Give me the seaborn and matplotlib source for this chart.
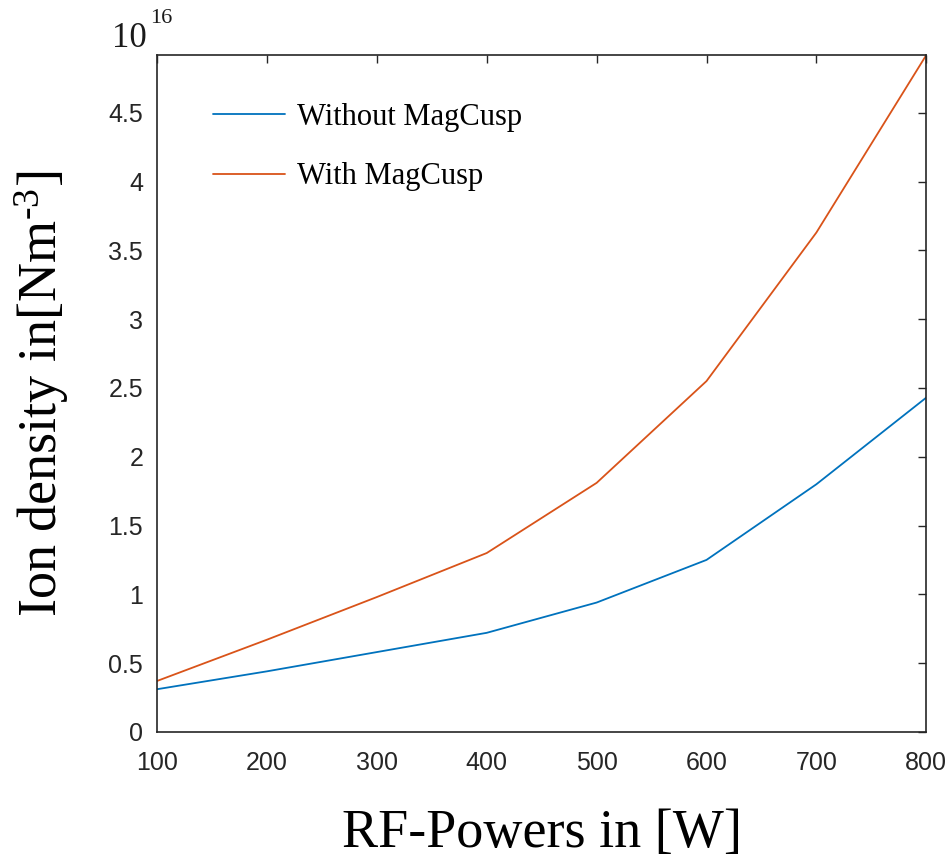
import numpy as np
import pandas as pd
import matplotlib
matplotlib.use("Agg")
import matplotlib.pyplot as plt
import seaborn as sns
from matplotlib.lines import Line2D

# Data (ion density in units of 1e16 m^-3)
rf_power = [100, 200, 300, 400, 500, 600, 700, 800]
without_cusp = [0.31, 0.44, 0.58, 0.72, 0.94, 1.25, 1.80, 2.43]
with_cusp = [0.37, 0.67, 0.98, 1.30, 1.81, 2.55, 3.63, 4.92]
series_names = ["Without MagCusp", "With MagCusp"]
x_ticks = [100, 200, 300, 400, 500, 600, 700, 800]
y_ticks = [0, 0.5, 1, 1.5, 2, 2.5, 3, 3.5, 4, 4.5]
y_tick_labels = ["0", "0.5", "1", "1.5", "2", "2.5", "3", "3.5", "4", "4.5"]

df = pd.DataFrame({
    "power": rf_power * 2,
    "density": without_cusp + with_cusp,
    "series": [series_names[0]] * len(rf_power) + [series_names[1]] * len(rf_power),
})

sns.set_style("white")
plt.rcParams["mathtext.fontset"] = "custom"
plt.rcParams["mathtext.rm"] = "Liberation Serif"
plt.rcParams["mathtext.it"] = "Liberation Serif:italic"

fig = plt.figure(figsize=(9.52, 8.6), dpi=100)
ax = fig.add_axes([0.165, 0.149, 0.808, 0.787])

palette = {series_names[0]: "#0072BD", series_names[1]: "#D95319"}
sns.lineplot(data=df, x="power", y="density", hue="series", palette=palette,
             linewidth=1.3, ax=ax, legend=False)

ax.set_xlim(100, 800)
ax.set_ylim(0, 4.92)
ax.set_xticks(x_ticks)
ax.set_xticklabels([str(v) for v in x_ticks])
ax.set_yticks(y_ticks)
ax.set_yticklabels(y_tick_labels)

axis_color = "#262626"
for s in ax.spines.values():
    s.set_visible(True)
    s.set_color(axis_color)
    s.set_linewidth(1.2)
ax.tick_params(direction="in", length=6, width=1.0, color=axis_color,
               top=True, right=True, labelsize=18, labelcolor=axis_color)
ax.tick_params(axis="x", pad=14)
ax.tick_params(axis="y", pad=10)
for lbl in ax.get_xticklabels() + ax.get_yticklabels():
    lbl.set_fontfamily("Liberation Sans")

ax.set_xlabel("RF-Powers in [W]", fontsize=39, fontfamily="Liberation Serif",
              labelpad=24, color="black")
ax.set_ylabel(r"Ion density in[Nm$^{\text{-3}}$]", fontsize=39,
              fontfamily="Liberation Serif", labelpad=27, color="black")

# Exponent label (10^16)
ax.text(-0.058, 1.012, "10", transform=ax.transAxes, fontsize=25,
        fontfamily="Liberation Serif", ha="left", va="baseline", color="#1a1a1a")
ax.text(-0.009, 1.047, "16", transform=ax.transAxes, fontsize=16,
        fontfamily="Liberation Serif", ha="left", va="baseline", color="#1a1a1a")

# Legend
handles = [Line2D([0], [0], color=palette[n], lw=1.3) for n in series_names]
leg = ax.legend(handles, series_names, loc="upper left", bbox_to_anchor=(0.037, 0.97),
                frameon=False, prop={"family": "Liberation Serif", "size": 22},
                handlelength=2.36, handletextpad=0.4, labelspacing=1.0)
for t in leg.get_texts():
    t.set_color("black")

fig.savefig("out.png", dpi=100)
